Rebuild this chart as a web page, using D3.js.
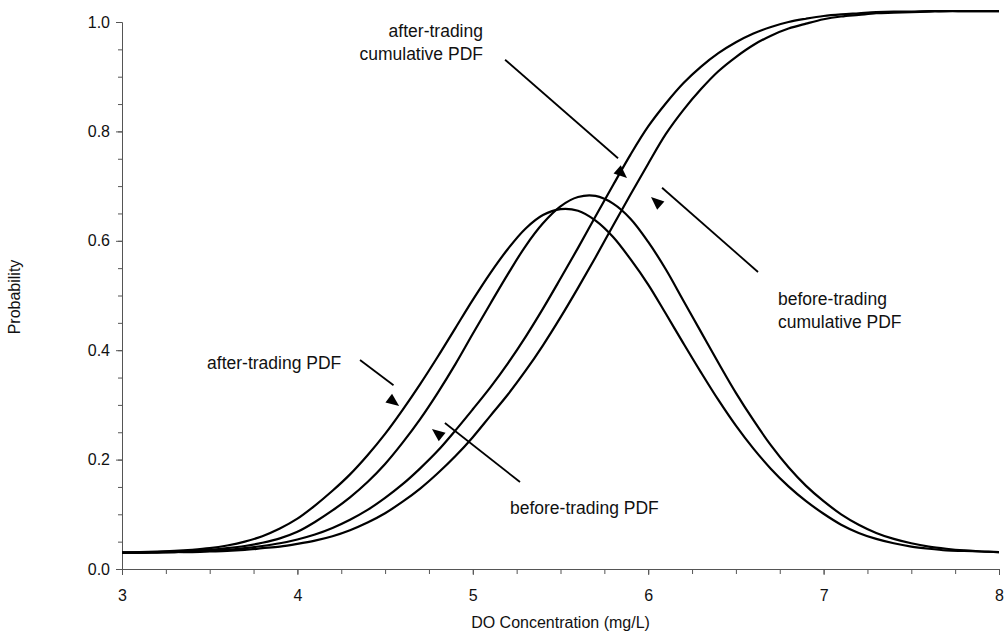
<!DOCTYPE html>
<html>
<head>
<meta charset="utf-8">
<script src="https://cdn.jsdelivr.net/npm/d3@7"></script>
<style>
  html, body { margin: 0; padding: 0; background: #fff; }
  svg { display: block; font-family: "Liberation Sans", Arial, sans-serif; }
</style>
</head>
<body>
<svg id="chart" width="1006" height="635"></svg>
<script>
// ---- data ----
const xValues = [3.0,3.1,3.2,3.3,3.4,3.5,3.6,3.7,3.8,3.9,
                 4.0,4.1,4.2,4.3,4.4,4.5,4.6,4.7,4.8,4.9,
                 5.0,5.1,5.2,5.3,5.4,5.5,5.6,5.7,5.8,5.9,
                 6.0,6.1,6.2,6.3,6.4,6.5,6.6,6.7,6.8,6.9,
                 7.0,7.1,7.2,7.3,7.4,7.5,7.6,7.7,7.8,7.9,8.0];
const afterPDF  = [0.030,0.031,0.032,0.033,0.035,0.038,0.043,0.050,0.060,0.074,
                   0.092,0.116,0.143,0.173,0.208,0.247,0.291,0.338,0.388,0.440,
                   0.492,0.541,0.585,0.622,0.647,0.658,0.655,0.637,0.607,0.566,
                   0.520,0.467,0.413,0.360,0.309,0.262,0.220,0.183,0.151,0.124,
                   0.101,0.081,0.066,0.055,0.047,0.041,0.037,0.034,0.033,0.032,0.031];
const beforePDF = [0.030,0.030,0.031,0.032,0.033,0.035,0.038,0.042,0.048,0.056,
                   0.068,0.086,0.107,0.131,0.159,0.192,0.231,0.274,0.322,0.374,
                   0.430,0.485,0.539,0.590,0.632,0.663,0.680,0.682,0.668,0.640,
                   0.598,0.548,0.491,0.434,0.377,0.322,0.272,0.226,0.186,0.152,
                   0.124,0.100,0.081,0.066,0.055,0.047,0.041,0.037,0.034,0.032,0.031];
const afterCDF  = [0.030,0.030,0.031,0.031,0.032,0.033,0.035,0.038,0.042,0.047,
                   0.054,0.063,0.075,0.090,0.108,0.130,0.155,0.184,0.216,0.253,
                   0.292,0.332,0.376,0.424,0.476,0.531,0.587,0.645,0.702,0.758,
                   0.809,0.851,0.888,0.918,0.943,0.963,0.979,0.991,1.000,1.006,
                   1.011,1.014,1.016,1.018,1.019,1.019,1.020,1.020,1.020,1.020,1.020];
const beforeCDF = [0.030,0.030,0.030,0.031,0.031,0.032,0.033,0.035,0.038,0.041,
                   0.046,0.052,0.060,0.071,0.085,0.102,0.123,0.147,0.175,0.206,
                   0.241,0.280,0.319,0.362,0.409,0.460,0.514,0.570,0.628,0.685,
                   0.741,0.795,0.839,0.877,0.910,0.936,0.958,0.975,0.988,0.997,
                   1.005,1.010,1.013,1.016,1.017,1.018,1.019,1.020,1.020,1.020,1.020];

const xTicks = [3,4,5,6,7,8];
const yTicks = [0.0,0.2,0.4,0.6,0.8,1.0];
const xTitle = "DO Concentration (mg/L)";
const yTitle = "Probability";

// annotations (data units): text lines, text anchor point, arrow line from l1 to l2, arrowhead tip
const annotations = [
  { lines:["after-trading PDF"], anchor:"start", tx:3.485, ty:0.366,
    l1:[4.357,0.382], l2:[4.548,0.336], head:[4.58,0.298] },
  { lines:["before-trading PDF"], anchor:"start", tx:5.212, ty:0.1005,
    l1:[5.269,0.159], l2:[4.841,0.267], head:[4.767,0.256] },
  { lines:["after-trading","cumulative PDF"], anchor:"end", tx:5.058, ty:0.973,
    l1:[5.184,0.931], l2:[5.828,0.751], head:[5.879,0.715] },
  { lines:["before-trading","cumulative PDF"], anchor:"start", tx:6.74, ty:0.483,
    l1:[6.626,0.543], l2:[6.079,0.697], head:[6.016,0.680] }
];

// ---- drawing ----
const svg = d3.select("#chart");
const x = d3.scaleLinear().domain([3, 8]).range([122, 999]);
const y = d3.scaleLinear().domain([0, 1]).range([569, 22]);

const axisColor = "#555";
const textColor = "#111";

// y axis
const yMinor = d3.range(0, 1.0001, 0.05).map(v => +v.toFixed(2));
svg.append("g").attr("transform", "translate(122,0)")
  .call(d3.axisLeft(y).tickValues(yMinor).tickSize(4).tickFormat(""))
  .call(g => g.selectAll("line").attr("stroke", axisColor))
  .call(g => g.select(".domain").remove());
const gy = svg.append("g").attr("transform", "translate(122,0)")
  .call(d3.axisLeft(y).tickValues(yTicks).tickSize(6).tickPadding(6).tickFormat(d3.format(".1f")));
gy.select(".domain").attr("stroke", axisColor);
gy.selectAll("line").attr("stroke", axisColor);
gy.selectAll("text").attr("font-size", 16).attr("fill", textColor)
  .attr("font-family", "Liberation Sans, Arial, sans-serif");

// x axis
const xMinor = d3.range(3, 8.0001, 0.25);
svg.append("g").attr("transform", "translate(0,569)")
  .call(d3.axisBottom(x).tickValues(xMinor).tickSize(5).tickFormat(""))
  .call(g => g.selectAll("line").attr("stroke", axisColor))
  .call(g => g.select(".domain").remove());
const gx = svg.append("g").attr("transform", "translate(0,569)")
  .call(d3.axisBottom(x).tickValues(xTicks).tickSize(6).tickPadding(15).tickFormat(d3.format("d")));
gx.select(".domain").attr("stroke", axisColor);
gx.selectAll("line").attr("stroke", axisColor);
gx.selectAll("text").attr("font-size", 16).attr("fill", textColor)
  .attr("font-family", "Liberation Sans, Arial, sans-serif");

// titles
svg.append("text").attr("x", x(5.5)).attr("y", 628).attr("text-anchor", "middle")
  .attr("font-size", 16).attr("fill", textColor).text(xTitle);
svg.append("text").attr("transform", "translate(20,297) rotate(-90)")
  .attr("text-anchor", "middle").attr("font-size", 16).attr("fill", textColor).text(yTitle);

// curves
const series = [afterPDF, beforePDF, afterCDF, beforeCDF];
const line = d3.line().x((d, i) => x(xValues[i])).y(d => y(d)).curve(d3.curveCatmullRom.alpha(0.5));
svg.append("g").selectAll("path").data(series).join("path")
  .attr("d", d => line(d)).attr("fill", "none").attr("stroke", "#000")
  .attr("stroke-width", 2.2).attr("stroke-linejoin", "round");

// annotations
const ag = svg.append("g");
annotations.forEach(a => {
  const t = ag.append("text").attr("x", x(a.tx)).attr("y", y(a.ty))
    .attr("text-anchor", a.anchor).attr("font-size", 17.5).attr("fill", textColor);
  a.lines.forEach((s, i) => t.append("tspan").attr("x", x(a.tx)).attr("dy", i ? 23 : 0).text(s));
  ag.append("line").attr("x1", x(a.l1[0])).attr("y1", y(a.l1[1]))
    .attr("x2", x(a.l2[0])).attr("y2", y(a.l2[1])).attr("stroke", "#000").attr("stroke-width", 1.8);
  const dx = x(a.l2[0]) - x(a.l1[0]), dy = y(a.l2[1]) - y(a.l1[1]);
  const ang = Math.atan2(dy, dx) * 180 / Math.PI;
  ag.append("path").attr("d", "M0,0 L-13,-5.5 L-13,5.5 Z")
    .attr("transform", `translate(${x(a.head[0])},${y(a.head[1])}) rotate(${ang})`)
    .attr("fill", "#000");
});
</script>
</body>
</html>
